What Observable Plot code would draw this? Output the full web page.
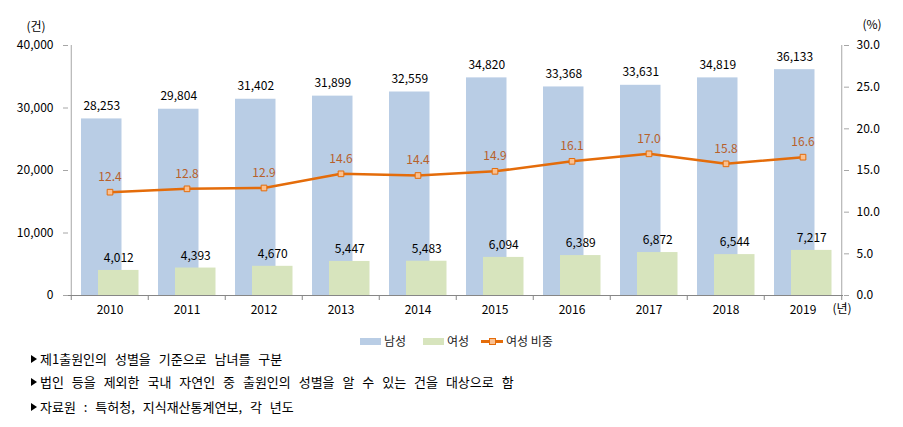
<!DOCTYPE html>
<html><head><meta charset="utf-8">
<script src="https://cdn.jsdelivr.net/npm/d3@7"></script>
<script src="https://cdn.jsdelivr.net/npm/@observablehq/plot@0.6"></script>
<style>
body{margin:0;background:#fff;font-family:"Noto Sans CJK KR",sans-serif;}
#wrap{position:relative;width:903px;height:427px;overflow:hidden;}
#chart{position:absolute;left:0;top:0;}
.lg{position:absolute;font-size:12px;line-height:14px;color:#222;}
.sw{position:absolute;}
.note{position:absolute;left:40px;font-size:13px;line-height:16px;color:#000;white-space:nowrap;word-spacing:5px;}
.tri{position:absolute;left:31px;width:0;height:0;border-left:6px solid #000;border-top:4px solid transparent;border-bottom:4px solid transparent;}
</style></head><body><div id="wrap"><div id="chart"></div></div>
<script>
const years = ["2010","2011","2012","2013","2014","2015","2016","2017","2018","2019"];
const male = [28253,29804,31402,31899,32559,34820,33368,33631,34819,36133];
const female = [4012,4393,4670,5447,5483,6094,6389,6872,6544,7217];
const femaleShare = [12.4,12.8,12.9,14.6,14.4,14.9,16.1,17.0,15.8,16.6];
const leftTicks = [0,10000,20000,30000,40000];
const rightTicks = [0,5,10,15,20,25,30];
const seriesNames = ["남성","여성","여성 비중"];
const notes = [
  "제1출원인의 성별을 기준으로 남녀를 구분",
  "법인 등을 제외한 국내 자연인 중 출원인의 성별을 알 수 있는 건을 대상으로 함",
  "자료원 : 특허청, 지식재산통계연보, 각 년도"
];

const W = 903, H = 325, ML = 68, MR = 60, MT = 45, MB = 30;
const bw = (W - ML - MR) / years.length;
const barW = 41;
const ratio = 40000 / 30;
const rows = years.map((y, i) => ({year: y, male: male[i], female: female[i], share: femaleShare[i], shareY: femaleShare[i] * ratio}));
const fmt = d3.format(",");
const blue = "#b9cde5", green = "#d7e4bd", orange = "#e46c0a";
const axisGray = "#a6a6a6";

const plot = Plot.plot({
  width: W, height: H,
  marginLeft: ML, marginRight: MR, marginTop: MT, marginBottom: MB,
  style: {fontSize: "12px", fontFamily: '"Noto Sans CJK KR", sans-serif', color: "#000", background: "#fff"},
  x: {type: "band", domain: years, padding: 0, label: null},
  y: {domain: [0, 40000], label: null},
  marks: [
    Plot.barY(rows, {x: "year", y: "male", fill: blue, insetLeft: 10, insetRight: bw - 10 - barW}),
    Plot.barY(rows, {x: "year", y: "female", fill: green, insetLeft: bw - 9.5 - barW, insetRight: 9.5}),
    // axis lines
    Plot.ruleY([0], {stroke: "#868686"}),
    Plot.ruleX([years[0]], {y1: 0, y2: 40000, dx: -bw / 2, stroke: axisGray}),
    Plot.ruleX([years[years.length - 1]], {y1: 0, y2: 40000, dx: bw / 2, stroke: axisGray}),
    // left axis
    Plot.axisY(leftTicks, {anchor: "left", tickSize: 5, tickPadding: 10, tickFormat: fmt, stroke: axisGray, fill: "#000", label: null}),
    // right axis
    Plot.axisY(rightTicks.map(d => d * ratio), {anchor: "right", tickSize: 5, tickPadding: 8, tickFormat: d => (d / ratio).toFixed(1), stroke: axisGray, fill: "#000", label: null}),
    // x ticks between categories
    Plot.axisX(years, {tickSize: 5, dx: -bw / 2, text: null, stroke: "#868686", label: null}),
    Plot.axisX([years[years.length - 1]], {tickSize: 5, dx: bw / 2, text: null, stroke: "#868686", label: null}),
    Plot.axisX(years, {tickSize: 0, tickPadding: 10, fill: "#000", label: null}),
    // line
    Plot.line(rows, {x: "year", y: "shareY", stroke: orange, strokeWidth: 2.5}),
    Plot.dot(rows, {x: "year", y: "shareY", symbol: "square", r: 3.2, fill: "#fac090", stroke: orange, strokeWidth: 1}),
    // labels
    Plot.text(rows, {x: "year", y: "male", text: d => fmt(d.male), dx: -(bw / 2 - 10 - barW / 2), dy: -13, fill: "#000"}),
    Plot.text(rows, {x: "year", y: "female", text: d => fmt(d.female), dx: (bw / 2 - 9.5 - barW / 2), dy: -12, fill: "#000"}),
    Plot.text(rows, {x: "year", y: "shareY", text: d => d.share.toFixed(1), dy: -15, fill: "#b8602a"}),
    // unit labels
    Plot.text(["(건)"], {frameAnchor: "top-left", text: d => d, textAnchor: "start", dx: -42, dy: -23, fill: "#000"}),
    Plot.text(["(%)"], {frameAnchor: "top-right", text: d => d, textAnchor: "start", dx: 19, dy: -25, fill: "#000"}),
    Plot.text(["(년)"], {frameAnchor: "bottom-right", text: d => d, textAnchor: "start", dx: -11, dy: 17, fill: "#000"})
  ]
});
document.getElementById("chart").appendChild(plot);

const wrap = document.getElementById("wrap");
function add(html) { wrap.insertAdjacentHTML("beforeend", html); }
// legend
add(`<div class="sw" style="left:360px;top:338px;width:21px;height:7px;background:${blue}"></div>`);
add(`<div class="lg" style="left:384px;top:334px">${seriesNames[0]}</div>`);
add(`<div class="sw" style="left:423px;top:338px;width:21px;height:7px;background:${green}"></div>`);
add(`<div class="lg" style="left:447px;top:334px">${seriesNames[1]}</div>`);
add(`<div class="sw" style="left:481px;top:340px;width:22px;height:2.5px;background:${orange}"></div>`);
add(`<div class="sw" style="left:489px;top:338px;width:5px;height:5px;background:#fac090;border:1px solid ${orange}"></div>`);
add(`<div class="lg" style="left:506px;top:334px">${seriesNames[2]}</div>`);
// notes
const noteY = [359, 382, 407];
notes.forEach((t, i) => {
  add(`<div class="tri" style="top:${noteY[i] - 4}px"></div>`);
  add(`<div class="note" style="top:${noteY[i] - 8}px">${t}</div>`);
});
</script>
</body></html>
